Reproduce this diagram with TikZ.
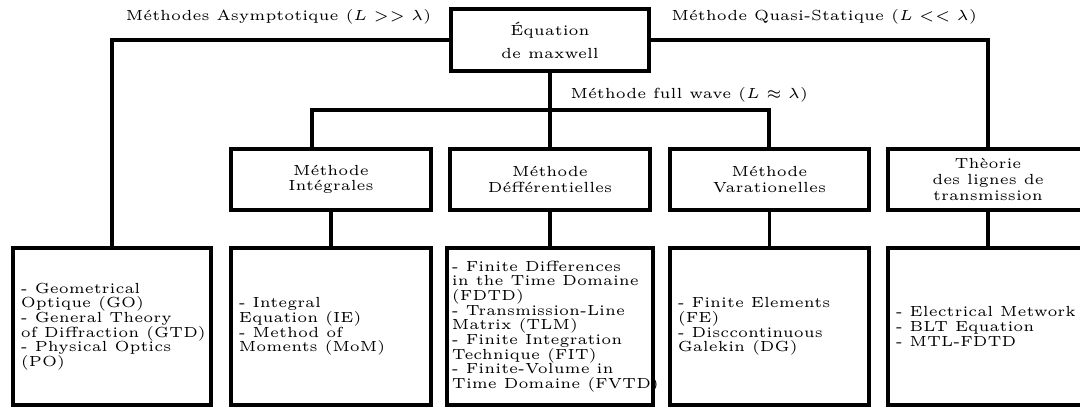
\documentclass[tikz,border=0pt]{standalone}
\usetikzlibrary{calc}
\begin{document}
\begin{tikzpicture}[x=0.3415pt, y=-0.3415pt, line width=1.1pt,
  every node/.style={font=\fontsize{5}{5}\selectfont},
  box/.style={draw, line width=1.1pt, inner sep=0pt, align=center},
  topbox/.style={box, minimum width=67.6pt, minimum height=21.2pt, font=\fontsize{5}{7.9}\selectfont},
  midbox/.style={box, minimum width=#1, minimum height=20.8pt, font=\fontsize{5}{5.4}\selectfont},
  botbox/.style={box, minimum width=#1, minimum height=53.6pt},
  boxtxt/.style={anchor=west, align=left, inner sep=0pt},
  lbl/.style={inner sep=0pt}]
\useasboundingbox (0,0) rectangle (1080,407);
\clip (0,0) rectangle (1080,407);

% top
\node[topbox] (eq) at (550,40) {Équation\\de maxwell};

% middle row
\node[midbox=68.3pt] (mi) at (331,179.5) {Méthode\\Intégrales};
\node[midbox=68.3pt] (md) at (550,179.5) {Méthode\\Défférentielles};
\node[midbox=68pt]   (mv) at (769.5,179.5) {Méthode\\Varationelles};
\node[midbox=68.3pt] (mt) at (988,179.5) {Thèorie\\des lignes de\\transmission};

% bottom row
\node[botbox=67.6pt]  (bl) at (112,326.5) {};
\node[botbox=68.3pt]  (bi) at (331,326.5) {};
\node[botbox=70.35pt] (bd) at (550,326.5) {};
\node[botbox=68pt]    (bv) at (769.5,326.5) {};
\node[botbox=68.3pt]  (br) at (988,326.5) {};

\node[boxtxt] (tl) at ([xshift=2.7pt]bl.west) {- Geometrical\\Optique (GO)\\- General Theory\\of Diffraction (GTD)\\- Physical Optics\\(PO)};
\node[boxtxt] (ti) at ([xshift=2.7pt]bi.west) {- Integral\\Equation (IE)\\- Method of\\Moments (MoM)};
\node[boxtxt] (td) at ([xshift=1.7pt]bd.west) {- Finite Differences\\in the Time Domaine\\(FDTD)\\- Transmission-Line\\Matrix (TLM)\\- Finite Integration\\Technique (FIT)\\- Finite-Volume in\\Time Domaine (FVTD)};
\node[boxtxt] (tv) at ([xshift=2.7pt]bv.west) {- Finite Elements\\(FE)\\- Disccontinuous\\Galekin (DG)};
\node[boxtxt] (tr) at ([xshift=2.7pt]br.west) {- Electrical Metwork\\- BLT Equation\\- MTL-FDTD};

% labels
\node[lbl, anchor=base east] (la) at (433,21) {Méthodes Asymptotique ($L >> \lambda$)};
\node[lbl, anchor=base west] (lq) at (670,21) {Méthode Quasi-Statique ($L << \lambda$)};
\node[lbl, anchor=base west] (lf) at (569,99) {Méthode full wave ($L \approx \lambda$)};

% connectors
\coordinate (barL) at (312,110);
\coordinate (barR) at (769,110);
\draw (eq.west) -| (bl.north);
\draw (eq.east) -| (mt.north);
\draw (eq.south) -- (md.north);
\draw (barL |- mi.north) -- (barL) -- (barR) -- (barR |- mv.north);
\draw (mi.south) -- (bi.north);
\draw (md.south) -- (bd.north);
\draw (mv.south) -- (bv.north);
\draw (mt.south) -- (br.north);
\end{tikzpicture}
\end{document}
